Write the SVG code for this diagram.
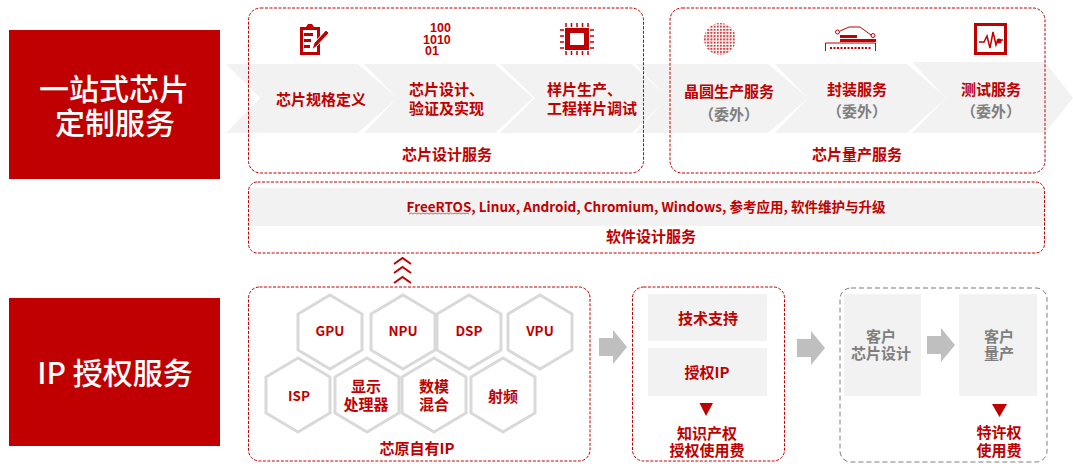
<svg xmlns="http://www.w3.org/2000/svg" width="1073" height="464" viewBox="0 0 1073 464">
<style>
text{font-family:"Noto Sans CJK SC","Noto Sans",sans-serif;font-weight:700;font-size:15px;fill:#C00000;text-anchor:middle;dominant-baseline:central}
.l{text-anchor:start}
.g{fill:#7F7F7F}
.t{font-size:30px;font-weight:500;fill:#fff}
.s{font-size:13.5px}
.bin{font-family:"Liberation Sans",Arial,sans-serif;font-size:12.5px;text-anchor:start}
.band{fill:#F2F2F2}
.dash{fill:none;stroke:#C00000;stroke-width:1;stroke-dasharray:3 1.5}
.dg{fill:none;stroke:#7F7F7F;stroke-width:1;stroke-dasharray:5 3}
.hex{fill:#fff;stroke:#D9D9D9;stroke-width:3}
.arr{fill:#BFBFBF}
.tri{fill:#C00000}
.chev{fill:none;stroke:#C00000;stroke-width:2}
</style>
<defs>
<polygon id="hx" class="hex" points="0,-37 32,-18 32,18 0,37 -32,18 -32,-18"/>
<polygon id="ar" class="arr" points="0,-9 14,-9 14,-17 28,0 14,17 14,9 0,9"/>
<pattern id="dots" width="3.2" height="3.2" patternUnits="userSpaceOnUse"><rect width="2" height="2" fill="#C00000" opacity=".75"/></pattern>
</defs>
<rect width="1073" height="464" fill="#fff"/>
<g id="band-chevrons">
<polygon class="band" points="226,64 358,64 397,98 358,133 226,133 260,98"/>
<polygon class="band" points="364,64 495,64 533,98 495,133 364,133 397,98"/>
<polygon class="band" points="500,64 632,64 668,98 632,133 500,133 535,98"/>
<polygon class="band" points="636,64 768,64 808,98 768,133 636,133 667,98"/>
<polygon class="band" points="775,64 907,64 946,98 907,133 775,133 808,98"/>
<polygon class="band" points="912,62 1045,62 1073,98 1045,133 912,133 946,98"/>
</g>
<g id="title-custom"><rect x="9" y="30" width="211" height="149" fill="#C00000"/><text class="t"><tspan x="114" y="87">一站式芯片</tspan><tspan x="115" y="121">定制服务</tspan></text></g>
<g id="title-ip"><rect x="9" y="298" width="211" height="148" fill="#C00000"/><text class="t" x="115" y="371">IP 授权服务</text></g>
<g id="chip-design">
<rect class="dash" x="248.500" y="8" width="395" height="165" rx="12"/>
<g id="icon-spec" fill="#C00000">
<path d="M300 27h6l2-3h4l2 3h6v28h-20z"/>
<rect x="303" y="30" width="14" height="22" fill="#fff"/>
<path d="M304 33h9v3h-9zM304 39h7v3h-7zM304 45h6v3h-6z"/>
<path d="M312 50l2-7 12-13 3 3-12 13z" stroke="#fff" stroke-width="1"/>
</g>
<text id="icon-binary" class="bin"><tspan x="430" y="28">100</tspan><tspan x="423" y="39.500">1010</tspan><tspan x="425" y="50.500">01</tspan></text>
<g id="icon-chip" fill="none" stroke="#C00000">
<path stroke-width="1.500" d="M566 27v-4M571.500 27v-4M577 27v-4M582.500 27v-4M588 27v-4M566 51v4M571.500 51v4M577 51v4M582.500 51v4M588 51v4M564 30h-4M564 36h-4M564 42h-4M564 48h-4M590 30h4M590 36h4M590 42h4M590 48h4"/>
<rect x="567.500" y="30.500" width="19" height="17" fill="#fff" stroke-width="5"/>
</g>
<text id="n1" x="321" y="98">芯片规格定义</text>
<text class="l"><tspan x="409" y="88">芯片设计、</tspan><tspan x="409" y="107">验证及实现</tspan></text>
<text class="l"><tspan x="547" y="88">样片生产、</tspan><tspan x="547" y="107">工程样片调试</tspan></text>
<text x="447" y="153">芯片设计服务</text>
</g>
<g id="chip-mfg">
<rect class="dash" x="670" y="8" width="375" height="165" rx="12"/>
<circle id="icon-wafer" cx="720" cy="39" r="16" fill="url(#dots)"/>
<g id="icon-package" fill="none" stroke="#C00000">
<path d="M825.500 51v-8h50v8" stroke-width="1"/>
<rect x="840" y="35" width="17" height="3" fill="#C00000" stroke="none"/>
<rect x="840" y="39" width="36" height="3" fill="#C00000" stroke="none"/>
<path d="M840 31l9-4h11l11 8h1" stroke-width="1"/>
<circle cx="837.500" cy="32" r="2" stroke-width="1"/><circle cx="873" cy="35.500" r="2" stroke-width="1"/>
<path d="M830 48h42" stroke-width="2" stroke-dasharray="2 1.500"/>
</g>
<g id="icon-test" fill="none" stroke="#C00000">
<rect x="975.500" y="24.500" width="30" height="29" stroke-width="3"/>
<path d="M979 42h5l3-6 3 12 3-16 3 13 2-5h5" stroke-width="1.500"/>
<circle cx="999" cy="41" r="2.500" fill="#C00000" stroke="none"/>
</g>
<text x="729" y="90">晶圆生产服务</text><text class="g" x="729" y="113">（委外）</text>
<text x="857" y="88">封装服务</text><text class="g" x="857" y="110">（委外）</text>
<text x="991" y="88">测试服务</text><text class="g" x="991" y="110">（委外）</text>
<text x="857" y="153">芯片量产服务</text>
</g>
<g id="software">
<rect class="band" x="249" y="188" width="796" height="38"/>
<rect class="dash" x="248.500" y="182" width="796" height="71" rx="9"/>
<text x="646" y="206" style="font-size:13.500px">FreeRTOS, Linux, Android, Chromium, Windows, 参考应用, 软件维护与升级</text>
<text x="651" y="235">软件设计服务</text>
<path d="M409 214l2 -1 2 1 2 -1 2 1 2 -1 2 1 2 -1 2 1 2 -1 2 1 2 -1 2 1 2 -1 2 1 2 -1 2 1 2 -1 2 1 2 -1 2 1 2 -1 2 1 2 -1 2 1 2 -1 2 1 2 -1 2 1 2 -1 2 1" fill="none" stroke="#C00000" stroke-width=".6"/>
</g>
<g id="own-ip">
<rect class="dash" x="248.500" y="287" width="341.500" height="174" rx="11"/>
<g id="hex-row2">
<use href="#hx" x="298" y="395"/><use href="#hx" x="367" y="395"/><use href="#hx" x="434" y="395"/><use href="#hx" x="503" y="395"/>
</g>
<g id="hex-row1">
<use href="#hx" x="330" y="332"/><use href="#hx" x="403" y="332"/><use href="#hx" x="469" y="332"/><use href="#hx" x="540" y="332"/>
</g>
<text class="s" x="330" y="330">GPU</text><text class="s" x="403" y="330">NPU</text><text class="s" x="469" y="330">DSP</text><text class="s" x="540" y="330">VPU</text>
<text class="s" x="299" y="395">ISP</text>
<text><tspan x="366" y="385">显示</tspan><tspan x="366" y="403">处理器</tspan></text>
<text><tspan x="434" y="385">数模</tspan><tspan x="434" y="403">混合</tspan></text>
<text x="503" y="395">射频</text>
<text x="417" y="447">芯原自有IP</text>
</g>
<g id="licensing">
<rect class="dash" x="632.500" y="287" width="152" height="174" rx="11"/>
<rect class="band" x="648" y="294" width="119" height="47"/>
<rect class="band" x="648" y="348" width="119" height="48"/>
<text x="708" y="317">技术支持</text><text x="707" y="371">授权IP</text>
<polygon class="tri" points="699.500,403 713,403 706,416"/>
<text><tspan x="707" y="432">知识产权</tspan><tspan x="707" y="449">授权使用费</tspan></text>
</g>
<g id="customer">
<rect class="dg" x="840" y="288" width="207" height="174" rx="11"/>
<rect class="band" x="844" y="294" width="77" height="102"/>
<rect class="band" x="959" y="294" width="78" height="102"/>
<text class="g"><tspan x="881" y="335">客户</tspan><tspan x="881" y="352">芯片设计</tspan></text>
<text class="g"><tspan x="999" y="335">客户</tspan><tspan x="999" y="352">量产</tspan></text>
<polygon class="tri" points="992,404 1007,404 999.500,417"/>
<text><tspan x="999" y="431">特许权</tspan><tspan x="999" y="449">使用费</tspan></text>
</g>
<g id="connectors">
<use href="#ar" x="599" y="347"/><use href="#ar" x="797" y="348"/><use href="#ar" x="927" y="345"/>
<path class="chev" d="M394 264l8.500-6 8.500 6M394 273l8.500-6 8.500 6M394 283l8.500-6 8.500 6"/>
</g>
</svg>
